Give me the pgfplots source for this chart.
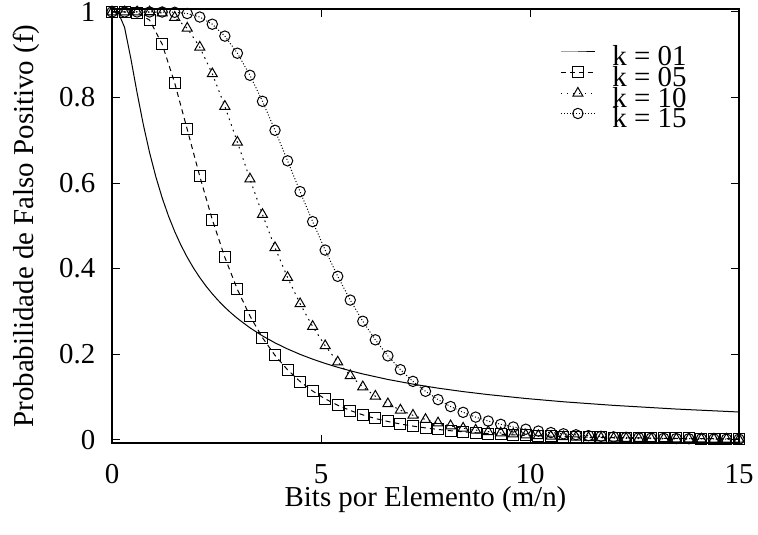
\documentclass[border=0pt]{standalone}
\usepackage{fontspec}
\setmainfont{Liberation Serif}
\usepackage{pgfplots}
\usepackage{pgfplotstable}
\pgfplotsset{compat=1.18}

\newcommand{\plotfont}{\fontsize{14.5}{17.4}\selectfont}

% false positive rate sampled every 0.3 bits per element
\pgfplotstableread{
x     k05    k10    k15
0     1      1      1
0.3   1      1      1
0.6   0.9988 1      1
0.9   0.9809 0.9999 1
1.2   0.9249 0.9976 0.9999
1.5   0.8339 0.9874 0.9993
1.8   0.7254 0.9620 0.9964
2.1   0.6157 0.9177 0.9882
2.4   0.5143 0.8554 0.9714
2.7   0.4259 0.7793 0.9436
3.0   0.3511 0.6954 0.9036
3.3   0.2891 0.6095 0.8520
3.6   0.2383 0.5263 0.7911
3.9   0.1969 0.4488 0.7233
4.2   0.1632 0.3790 0.6519
4.5   0.1358 0.3176 0.5799
4.8   0.1135 0.2645 0.5097
5.1   0.0952 0.2194 0.4432
5.4   0.0803 0.1813 0.3818
5.7   0.0680 0.1496 0.3262
6.0   0.0578 0.1233 0.2767
6.3   0.0493 0.1015 0.2333
6.6   0.0423 0.0836 0.1957
6.9   0.0364 0.0689 0.1635
7.2   0.0315 0.0568 0.1361
7.5   0.0273 0.0469 0.1129
7.8   0.0237 0.0388 0.0935
8.1   0.0207 0.0321 0.0772
8.4   0.0182 0.0266 0.0637
8.7   0.0160 0.0221 0.0525
9.0   0.0141 0.0185 0.0433
9.3   0.0124 0.0154 0.0357
9.6   0.0110 0.0129 0.0294
9.9   0.0098 0.0108 0.0242
10.2  0.0087 0.0091 0.0199
10.5  0.0078 0.0076 0.0164
10.8  0.0070 0.0065 0.0135
11.1  0.0063 0.0055 0.0112
11.4  0.0056 0.0046 0.0092
11.7  0.0051 0.0039 0.0076
12.0  0.0046 0.0033 0.0063
12.3  0.0042 0.0028 0.0052
12.6  0.0038 0.0024 0.0044
12.9  0.0034 0.0021 0.0036
13.2  0.0031 0.0018 0.0030
13.5  0.0028 0.0015 0.0025
13.8  0.0026 0.0013 0.0021
14.1  0.0024 0.0012 0.0018
14.4  0.0022 0.0010 0.0015
14.7  0.0020 0.0009 0.0012
15.0  0.0018 0.0007 0.0010
}\marked

\pgfplotstableread{
x     k01
0     1
0.15  0.9987
0.3   0.9643
0.45  0.8916
0.6   0.8111
0.75  0.7364
0.9   0.6708
1.05  0.6142
1.2   0.5654
1.35  0.5232
1.5   0.4866
1.65  0.4545
1.8   0.4263
1.95  0.4012
2.1   0.3789
2.25  0.3588
2.4   0.3408
2.55  0.3244
2.7   0.3095
2.85  0.2959
3.0   0.2835
3.3   0.2614
3.6   0.2425
3.9   0.2262
4.2   0.2119
4.5   0.1993
4.8   0.1881
5.1   0.1781
5.4   0.1691
5.7   0.1609
6.0   0.1535
6.6   0.1406
7.2   0.1297
7.8   0.1203
8.4   0.1122
9.0   0.1052
9.9   0.0961
10.8  0.0884
12.0  0.0800
13.5  0.0714
15.0  0.0645
}\single

\begin{document}
\begin{tikzpicture}
\begin{axis}[
  at={(0,0)}, anchor=south west,
  scale only axis, width=313.5bp, height=217bp,
  xmin=0, xmax=15, ymin=-0.008, ymax=1.007,
  xtick={0,5,10,15}, ytick={0,0.2,0.4,0.6,0.8,1},
  tick align=inside, major tick length=4bp,
  tick style={line width=0.5bp, black},
  axis line style={line width=0.8bp},
  /pgf/number format/assume math mode=true,
  tick label style={font=\plotfont},
  label style={font=\plotfont},
  xticklabel style={yshift=-7.3bp},
  yticklabel style={xshift=-4.8bp},
  xlabel={Bits por Elemento (m/n)},
  ylabel={Probabilidade de Falso Positivo (f)},
  xlabel style={at={(axis description cs:0.5,-0.1452)}, anchor=base},
  ylabel style={at={(axis description cs:-0.1244,0.5)}, anchor=base},
  legend cell align=left,
  legend style={draw=none, fill=none, font=\plotfont,
    at={(axis description cs:0.7145,0.903)},
    anchor=north west, inner sep=0pt, row sep=-2.5bp,
    nodes={inner sep=0pt, text height=7bp, text depth=3bp},
    /tikz/every odd column/.append style={column sep=8.5bp}},
  legend image post style={yshift=5bp},
  every axis plot/.append style={black, line width=0.5bp},
]
\addplot[no marks] table[x=x, y=k01] {\single};
\addlegendentry{k = 01}
\addplot[dash pattern=on 2.5bp off 2bp, mark=square, mark size=2.75bp,
  mark options={solid}] table[x=x, y=k05] {\marked};
\addlegendentry{k = 05}
\addplot[dash pattern=on 0.8bp off 2.2bp, mark=triangle, mark size=2.9bp,
  mark options={solid}] table[x=x, y=k10] {\marked};
\addlegendentry{k = 10}
\addplot[dash pattern=on 0.5bp off 1bp, mark=o, mark size=2.6bp,
  mark options={solid}] table[x=x, y=k15] {\marked};
\addlegendentry{k = 15}
\end{axis}
\pgfresetboundingbox
\path (-56bp,-46bp) rectangle (323bp,221.5bp);
\end{tikzpicture}
\end{document}
